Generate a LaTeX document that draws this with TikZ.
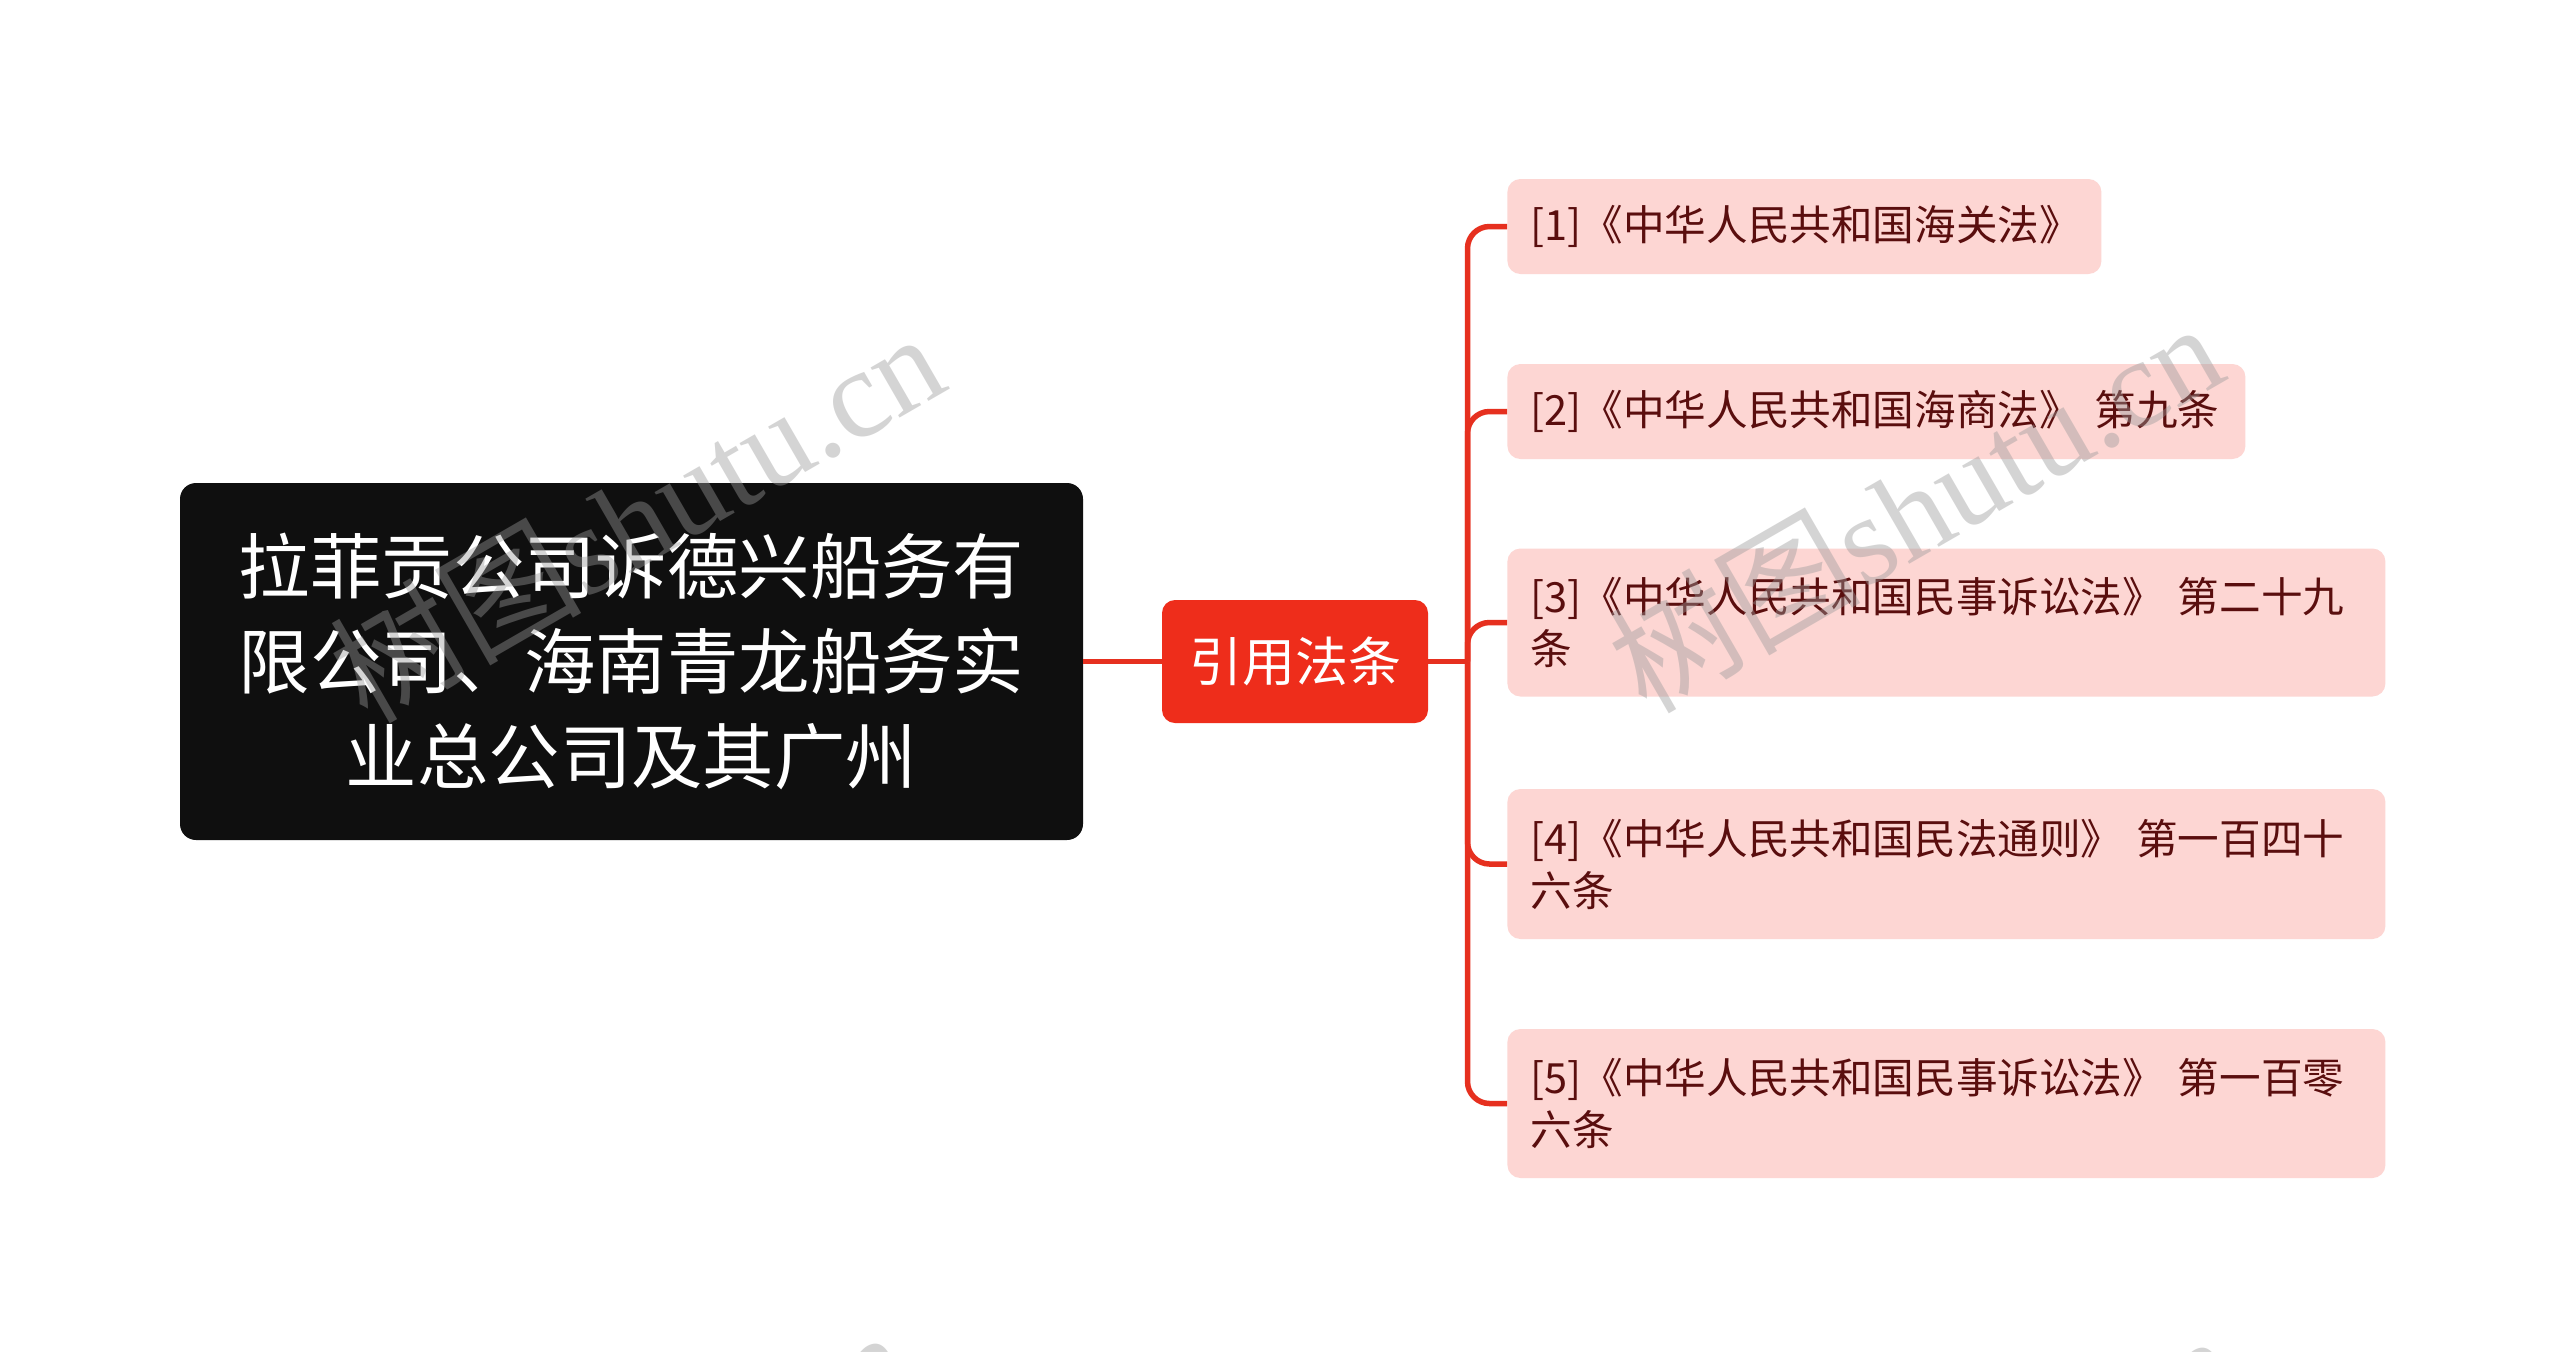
\documentclass[tikz,border=0pt]{standalone}
\usepackage{fontspec}
\setmainfont{Noto Sans CJK SC}
\newfontfamily\wmlatin{Liberation Serif}
\newfontfamily\wmcjk{Noto Sans CJK SC}
\definecolor{rootblack}{HTML}{0F0F0F}
\definecolor{hubred}{HTML}{EE2D1B}
\definecolor{linkred}{HTML}{E6301F}
\definecolor{leafpink}{HTML}{FDD6D3}
\definecolor{leaftext}{HTML}{5A0E0E}
\definecolor{wmgray}{HTML}{9A9A9A}
\begin{document}
\begin{tikzpicture}[x=0.5pt,y=-0.5pt,
  rootbox/.style={fill=rootblack, rounded corners=8pt, minimum width=451.5pt, minimum height=178.5pt,
    text=white, font=\fontsize{35.7}{47.5}\selectfont, align=center, inner sep=0pt},
  hubbox/.style={fill=hubred, rounded corners=6.5pt, minimum width=133pt, minimum height=61.5pt,
    text=white, font=\fontsize{26.5}{32}\selectfont, inner sep=0pt},
  leafbox/.style={fill=leafpink, rounded corners=6.5pt, anchor=west, inner xsep=11.5pt, inner ysep=0pt,
    text=leaftext, font=\fontsize{20.8}{26}\selectfont, align=left},
  link/.style={draw=linkred, line width=2.75pt},
  wmark/.style={text=wmgray, opacity=0.42, rotate=30, anchor=base west, inner sep=0pt,
    font=\fontsize{63}{63}\selectfont}
]
\useasboundingbox (0,0) rectangle (2560,1351);
\fill[white] (0,0) rectangle (2560,1351);

\node[rootbox] (root) at (631.5,661.5) {拉菲贡公司诉德兴船务有\\限公司、海南青龙船务实\\业总公司及其广州};
\node[hubbox] (hub) at (1295,661.5) {引用法条};

\node[leafbox, text width=274pt, minimum height=47.5pt] (l1) at (1507,226.5) {[1]《中华人民共和国海关法》};
\node[leafbox, text width=346pt, minimum height=47.5pt] (l2) at (1507,411.5) {[2]《中华人民共和国海商法》~第九条};
\node[leafbox, text width=416pt, minimum height=74pt] (l3) at (1507,622.5) {[3]《中华人民共和国民事诉讼法》~第二十九\\条};
\node[leafbox, text width=416pt, minimum height=75pt] (l4) at (1507,864) {[4]《中华人民共和国民法通则》~第一百四十\\六条};
\node[leafbox, text width=416pt, minimum height=74.5pt] (l5) at (1507,1103.5) {[5]《中华人民共和国民事诉讼法》~第一百零\\六条};

\coordinate (j) at (1467.5,661.5);
\draw[link] (root.east) -- (hub.west);
\draw[link] (hub.east) -- (j);
\foreach \i in {1,...,5}{
  \draw[link, rounded corners=11pt] (j) |- (l\i.west);
}

\node[wmark] (wm1) at (367,726) {{\wmcjk 树图}{\wmlatin shutu.cn}};
\node[wmark] (wm2) at (1646,716) {{\wmcjk 树图}{\wmlatin shutu.cn}};
\node[wmark] (wm3) at (333,1724) {{\wmcjk 树图}{\wmlatin shutu.cn}};
\node[wmark] (wm4) at (1660,1728) {{\wmcjk 树图}{\wmlatin shutu.cn}};
\end{tikzpicture}
\end{document}
